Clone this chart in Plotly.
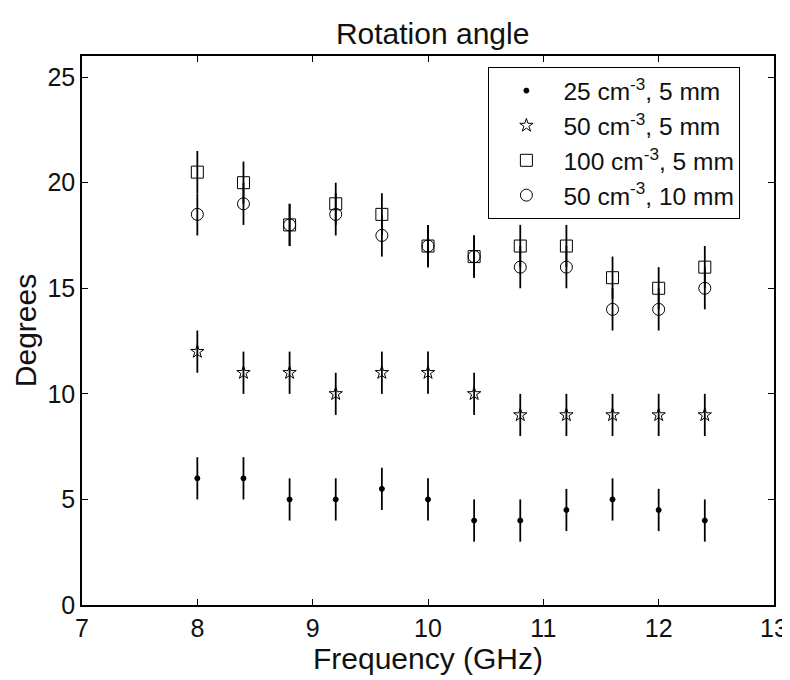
import plotly.graph_objects as go

freq = [8.0, 8.4, 8.8, 9.2, 9.6, 10.0, 10.4, 10.8, 11.2, 11.6, 12.0, 12.4]
s25_5 = [6, 6, 5, 5, 5.5, 5, 4, 4, 4.5, 5, 4.5, 4]
s50_5 = [12, 11, 11, 10, 11, 11, 10, 9, 9, 9, 9, 9]
s100_5 = [20.5, 20, 18, 19, 18.5, 17, 16.5, 17, 17, 15.5, 15, 16]
s50_10 = [18.5, 19, 18, 18.5, 17.5, 17, 16.5, 16, 16, 14, 14, 15]
err = 1.0

names = ["25 cm<sup>-3</sup>, 5 mm", "50 cm<sup>-3</sup>, 5 mm",
         "100 cm<sup>-3</sup>, 5 mm", "50 cm<sup>-3</sup>, 10 mm"]
series = [s25_5, s50_5, s100_5, s50_10]
symbols = ["circle", "star-open", "square-open", "circle-open"]
sizes = [5, 10, 12, 12]

FONT = "Liberation Sans, Arial, sans-serif"

fig = go.Figure()
for nm, ys, sym, sz in zip(names, series, symbols, sizes):
    fig.add_trace(go.Scatter(
        x=freq, y=ys, name=nm, mode="markers",
        marker=dict(symbol=sym, size=sz, color="black", line=dict(color="black", width=1)),
        error_y=dict(type="constant", value=err, color="black", thickness=1.8, width=0),
    ))

axis_common = dict(
    showgrid=False, zeroline=False, showline=True, linecolor="black", linewidth=1.5,
    mirror="ticks", ticks="inside", ticklen=6, tickcolor="black", tickwidth=1,
    automargin=False,
    tickfont=dict(family=FONT, size=25, color="#111"),
)

fig.update_layout(
    width=782, height=672,
    margin=dict(l=74, r=16, t=48, b=75),
    paper_bgcolor="white", plot_bgcolor="white",
    title=dict(text="Rotation angle", x=0.543, xanchor="center", y=0.962, yanchor="middle",
               font=dict(family=FONT, size=30, color="#111")),
    xaxis=dict(range=[7, 13], dtick=1,
               title=dict(text="Frequency (GHz)", standoff=0,
                          font=dict(family=FONT, size=30, color="#111")),
               **axis_common),
    yaxis=dict(range=[0, 26], dtick=5,
               title=dict(text="Degrees", standoff=2,
                          font=dict(family=FONT, size=30, color="#111")),
               **axis_common),
    legend=dict(x=0.587, y=0.98, xanchor="left", yanchor="top",
                bgcolor="white", bordercolor="black", borderwidth=1.2,
                font=dict(family=FONT, size=24.5, color="#111"),
                itemwidth=64, itemsizing="trace", tracegroupgap=0),
    showlegend=True,
)

fig.write_html("out.html")
